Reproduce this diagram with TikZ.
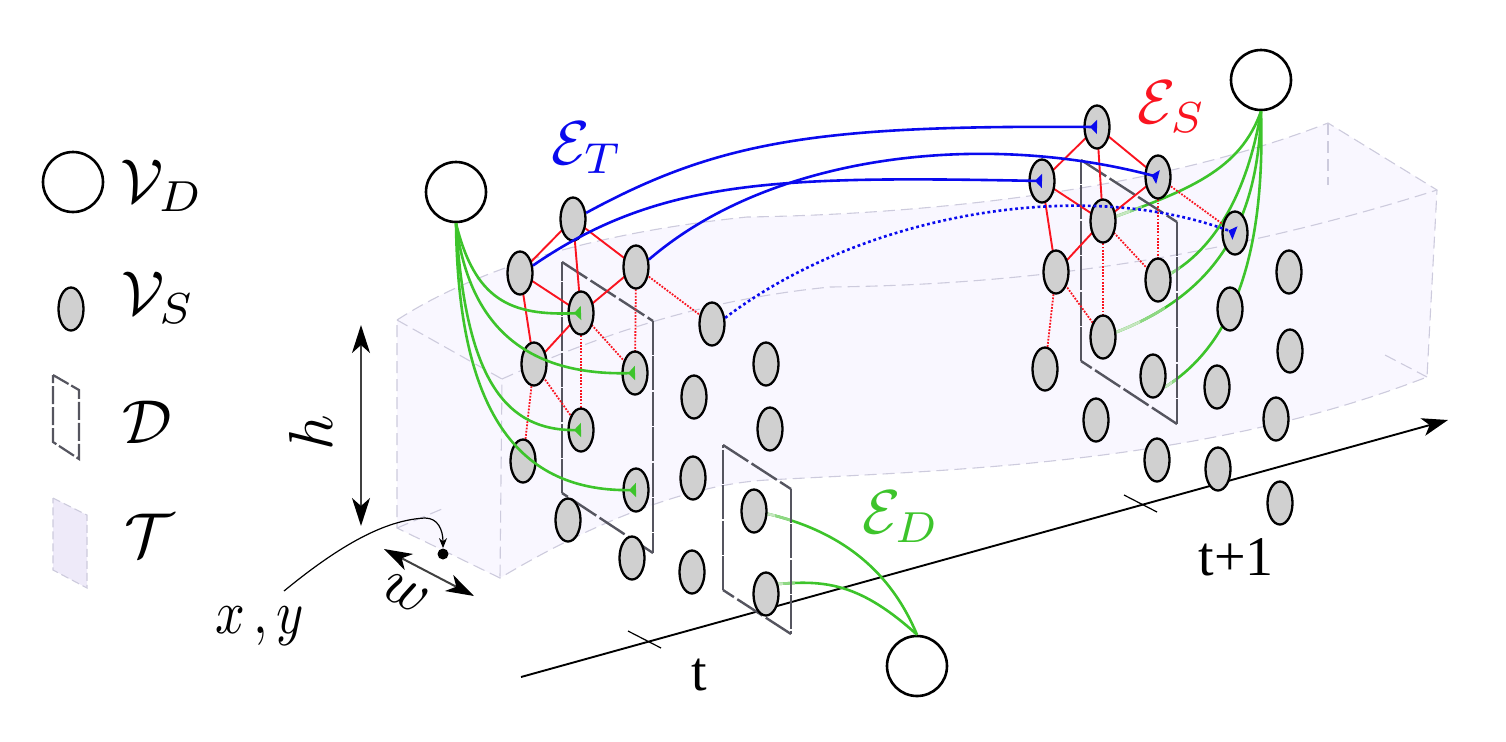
\documentclass[tikz,border=0pt]{standalone}
\usepackage{fontspec}
\newfontfamily\tfont{Liberation Serif}
\usetikzlibrary{shapes.geometric,arrows.meta}
\definecolor{tubefill}{HTML}{F9F7FF}
\definecolor{tubeline}{HTML}{CDCBDD}
\definecolor{legfill}{HTML}{EEEAF9}
\definecolor{planeline}{HTML}{55555F}
\definecolor{gnode}{HTML}{D0D0D0}
\definecolor{gedge}{HTML}{3DC42B}
\definecolor{gpale}{HTML}{C6E6C0}
\definecolor{gmid}{HTML}{8FD884}
\definecolor{redge}{HTML}{FA1420}
\definecolor{bedge}{HTML}{0A0AEE}
\tikzset{
  dyn/.style={circle,draw=black,fill=white,line width=1.3pt,minimum size=30pt,inner sep=0pt},
  snode/.style={ellipse,draw=black,fill=gnode,line width=1.15pt,minimum width=12.5pt,minimum height=21.5pt,inner sep=0pt},
  lab/.style={inner sep=0pt,scale=3.1},
  tubeedge/.style={draw=tubeline,line width=0.55pt,dash pattern=on 6pt off 3pt},
  planeh/.style={draw=planeline,line width=1.2pt,dash pattern=on 15pt off 2pt},
  planev/.style={draw=planeline,line width=1.2pt,dash pattern=on 17pt off 0.7pt},
  solidred/.style={draw=redge,line width=0.95pt},
  dotred/.style={draw=redge,line width=0.9pt,dash pattern=on 0.9pt off 0.7pt},
  gline/.style={draw=gedge,line width=1.3pt},
  gtip/.style={gline,-{Triangle[reversed,length=3.5pt,width=7pt]}},
  btip/.style={draw=bedge,line width=1.3pt,-{Triangle[reversed,length=3.5pt,width=7pt]}},
  bdot/.style={btip,dash pattern=on 1.4pt off 1.4pt},
  axisline/.style={draw=black,line width=0.95pt},
  bigarrow/.style={draw=black!75,line width=1pt,{Stealth[black,length=14pt,width=9pt,inset=4pt]}-{Stealth[black,length=14pt,width=9pt,inset=4pt]}},
}
\begin{document}
\begin{tikzpicture}[x=0.5pt,y=-0.5pt]
\useasboundingbox (0,0) rectangle (1506,741);
% tube
\fill[tubefill] (397,320) .. controls (490,260) and (620,230) .. (747,217)
  .. controls (880,215) and (1130,200) .. (1328,123) -- (1437,190) -- (1427,377)
  .. controls (1200,465) and (950,470) .. (767,480)
  .. controls (680,485) and (580,530) .. (500,578) -- (397,528) -- cycle;
\draw[tubeedge] (397,320) .. controls (490,260) and (620,230) .. (747,217)
  .. controls (880,215) and (1130,200) .. (1328,123) -- (1437,190) -- (1427,377)
  .. controls (1200,465) and (950,470) .. (767,480)
  .. controls (680,485) and (580,530) .. (500,578) -- (397,528) -- cycle;
\draw[tubeedge] (397,320) -- (502,379) -- (500,578);
\draw[tubeedge] (502,379) .. controls (600,335) and (700,300) .. (830,287)
  .. controls (1000,285) and (1200,265) .. (1437,190);
\draw[tubeedge] (1328,123) -- (1328,185);
\draw[tubeedge] (1385,355) -- (1427,377);
\draw[tubeedge] (397,528) -- (442,509);
% axis
\coordinate (axs) at (521,677);
\coordinate (axe) at (1448,420);
\draw[axisline,-{Stealth[black,length=13pt,width=9pt,inset=3.5pt]}] (axs) -- (axe);
\draw[axisline,line width=0.6pt] (628,631) -- (661,648);
\draw[axisline,line width=0.6pt] (1124,495) -- (1157,512);
% nodes
\foreach \n/\x/\y in {1/573/219,2/520/273,3/636/267,4/581/313,5/534/364,6/635/373,7/712/324,8/581/430,9/523/461,10/636/490,11/568/520,12/632/558,13/692/572,14/694/397,15/766/364,16/770/429,17/693/478,18/754/511,19/766/594}
  \coordinate (a\n) at (\x,\y);
\foreach \n/\x/\y in {1/1097/127,2/1042/181,3/1158/177,4/1103/221,5/1056/272,6/1158/280,7/1235/233,8/1103/337,9/1045/369,10/1153/376,11/1096/420,12/1157/460,13/1218/469,14/1276/419,15/1217/387,16/1230/309,17/1289/272,18/1290/351,19/1280/503}
  \coordinate (b\n) at (\x,\y);
\coordinate (a19s) at (778,584);
\coordinate (a18s) at (764,513);
\coordinate (b10s) at (1165,387);
\node[dyn] (L) at (456,192) {};
\node[dyn] (R) at (1261,80) {};
\node[dyn] (D) at (917,666) {};
% right and lower green connectors (below planes and nodes)
\newcommand{\fadepath}[4]{%
  \draw[gline] #1;
  \begin{scope}\clip (#3,0) rectangle (#4,741); \draw[draw=gmid,line width=1.3pt] #1; \end{scope}
  \begin{scope}\clip (#2,0) rectangle (#3,741); \draw[draw=gpale,line width=1.3pt] #1; \end{scope}}
\fadepath{(R.south) .. controls (1240,170) and (1190,190) .. (b4)}{1000}{1130}{1142}
\fadepath{(R.south) .. controls (1248,190) and (1215,255) .. (b6)}{1100}{1172}{1180}
\fadepath{(R.south) .. controls (1258,230) and (1210,300) .. (b8)}{1000}{1140}{1165}
\fadepath{(R.south) .. controls (1265,240) and (1240,340) .. (b10s)}{1000}{1172}{1176}
\fadepath{(a18s) .. controls (840,530) and (890,570) .. (D.north)}{700}{775}{790}
\fadepath{(a19s) .. controls (825,580) and (860,583) .. (D.north)}{700}{783}{795}
% planes
\coordinate (p1a) at (562,262); \coordinate (p1b) at (653,321); \coordinate (p1c) at (653,553); \coordinate (p1d) at (562,493);
\coordinate (p2a) at (723,445); \coordinate (p2b) at (791,489); \coordinate (p2c) at (791,634); \coordinate (p2d) at (723,590);
\coordinate (p3a) at (1081,160); \coordinate (p3b) at (1177,222); \coordinate (p3c) at (1177,424); \coordinate (p3d) at (1081,361);
\foreach \p in {p1,p2,p3}{
  \draw[planeh] (\p a) -- (\p b);
  \draw[planev] (\p b) -- (\p c);
  \draw[planeh] (\p c) -- (\p d);
  \draw[planev] (\p d) -- (\p a);
}
% red connectors
\foreach \c in {a,b}{
  \foreach \u/\v in {1/2,1/3,1/4,2/4,2/5,3/4,4/5}
    \draw[solidred] (\c\u) -- (\c\v);
  \foreach \u/\v in {3/7,3/6,4/6,4/8,5/8,5/9}
    \draw[dotred] (\c\u) -- (\c\v);
}
% small nodes drawn above
\foreach \n/\x/\y in {1/573/219,2/520/273,3/636/267,4/581/313,5/534/364,6/635/373,7/712/324,8/581/430,9/523/461,10/636/490,11/568/520,12/632/558,13/692/572,14/694/397,15/766/364,16/770/429,17/693/478,18/754/511,19/766/594}
  \node[snode] (na\n) at (\x,\y) {};
\foreach \n/\x/\y in {1/1097/127,2/1042/181,3/1158/177,4/1103/221,5/1056/272,6/1158/280,7/1235/233,8/1103/337,9/1045/369,10/1153/376,11/1096/420,12/1157/460,13/1218/469,14/1276/419,15/1217/387,16/1230/309,17/1289/272,18/1290/351,19/1280/503}
  \node[snode] (nb\n) at (\x,\y) {};
% left green connectors
\draw[gtip] (L.south) .. controls (475,300) and (510,316) .. (na4.center);
\draw[gtip] (L.south) .. controls (468,320) and (520,376) .. (na6.center);
\draw[gtip] (L.south) .. controls (465,370) and (500,431) .. (na8.center);
\draw[gtip] (L.south) .. controls (458,400) and (510,492) .. (na10.center);
% blue connectors
\draw[btip] (na1.25) .. controls (720,140) and (820,125) .. (nb1.center);
\draw[btip] (na2.30) .. controls (660,178) and (780,176) .. (nb2.center);
\draw[btip] (na3.30) .. controls (770,155) and (980,130) .. (nb3.center);
\draw[bdot] (na7.25) .. controls (860,215) and (1080,175) .. (nb7.center);
% legend
\node[dyn] (legD) at (73,182) {};
\node[snode] (legS) at (71,309) {};
\coordinate (q1) at (53,375); \coordinate (q2) at (79,390); \coordinate (q3) at (79,459); \coordinate (q4) at (53,442);
\draw[draw=planeline,line width=1.1pt,dash pattern=on 9pt off 1.5pt] (q1) -- (q2) -- (q3) -- (q4) -- cycle;
\fill[legfill] (53,498) -- (87,515) -- (87,588) -- (53,570) -- cycle;
\draw[tubeedge,dash pattern=on 4pt off 2pt] (53,498) -- (87,515) -- (87,588) -- (53,570) -- cycle;
\node[lab] (tVD) at (162,186) {$\mathcal{V}_D$};
\node[lab] (tVS) at (158,298) {$\mathcal{V}_S$};
\node[lab] (tD) at (147,422) {$\mathcal{D}$};
\node[lab] (tT) at (149,535) {$\mathcal{T}$};
% labels
\node[lab,text=bedge] (tET) at (587,148) {$\mathcal{E}_T$};
\node[lab,text=redge] (tES) at (1172,107) {$\mathcal{E}_S$};
\node[lab,text=gedge] (tED) at (901,517) {$\mathcal{E}_D$};
\node[inner sep=0pt,xscale=2.6,yscale=3.1] (txy) at (260,626) {$x\,,y$};
\node[lab,rotate=90] (th) at (311,433) {$h$};
\node[lab,rotate=-28] (tw) at (405,594) {$w$};
\node[inner sep=0pt,font=\tfont\fontsize{28}{28}\selectfont] (tt) at (699,675) {t};
\node[inner sep=0pt,font=\tfont\fontsize{28}{28}\selectfont] (tt1) at (1236,557) {t+1};
% dimension arrows
\coordinate (ha) at (361,325); \coordinate (hb) at (361,526);
\coordinate (wa) at (384,549); \coordinate (wb) at (474,596);
\draw[bigarrow] (ha) -- (hb);
\draw[bigarrow] (wa) -- (wb);
\node[circle,fill=black,minimum size=5.5pt,inner sep=0pt] (pt) at (443,554) {};
\coordinate (cs) at (284,591);
\draw[draw=black,line width=0.6pt,-{Stealth[black,length=5pt,width=4pt]}] (cs) .. controls (340,545) and (385,520) .. (425,518) .. controls (438,518) and (443,530) .. (pt.north);
\end{tikzpicture}
\end{document}
